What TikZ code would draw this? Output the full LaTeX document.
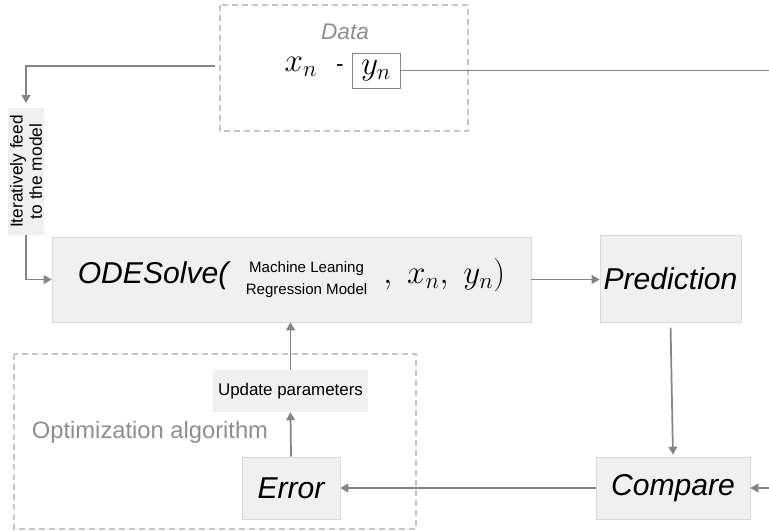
\documentclass[tikz,border=0pt]{standalone}
\usepackage{fontspec}
\setmainfont{Liberation Sans}
\usetikzlibrary{arrows.meta}

\definecolor{boxfill}{HTML}{F0F0F0}
\definecolor{boxline}{HTML}{D9D9D9}
\definecolor{dashline}{HTML}{C6C6C6}
\definecolor{arrowgray}{HTML}{858585}
\definecolor{labelgray}{HTML}{8E8E8E}

\newcommand{\bigit}{\fontsize{22.6}{27}\selectfont\itshape}
\newcommand{\mathsz}{\fontsize{25}{30}\selectfont}

\begin{document}
\begin{tikzpicture}[x=0.75pt,y=-0.75pt]
  \tikzset{box/.style = {draw=boxline,fill=boxfill,inner sep=0pt,font=\bigit}}
  \tikzset{tag/.style = {fill=boxfill,inner sep=0pt}}
  \tikzset{group/.style = {draw=dashline,line width=1pt,dash pattern=on 4.5pt off 3pt}}
  \tikzset{arr/.style = {draw=arrowgray,line width=1.3pt,-{Triangle[length=6pt,width=6.5pt]}}}
  \tikzset{plain/.style = {draw=arrowgray,line width=1.3pt}}

  \useasboundingbox (0,0) rectangle (769,531);

  % data block
  \draw[group] (220,5) rectangle (468,131);
  \node[text=labelgray,font=\fontsize{17}{20}\selectfont\itshape] (datalbl) at (345,32) {Data};
  \node[anchor=base,inner sep=0pt,font=\mathsz] (xn) at (301,72) {$x_n$};
  \node[anchor=base,inner sep=0pt,font=\fontsize{17}{20}\selectfont] (dash) at (340,72) {-};
  \node[draw=arrowgray,line width=0.7pt,minimum width=36pt,minimum height=26.25pt,inner sep=0pt,font=\mathsz] (yn) at (376,70.5) {$y_n$};
  \coordinate (rout) at (769,71);

  % optimization block
  \draw[group] (14,354) rectangle (416,529);
  \node[text=labelgray,font=\fontsize{17.8}{21}\selectfont] (optlbl) at (150,432) {Optimization algorithm};

  % main chain
  \node[box,minimum width=359.25pt,minimum height=63.75pt] (ode) at (291.5,279.5)
    {ODESolve(\hspace{13pt}{\fontsize{11.3}{16.5}\selectfont\upshape\begin{tabular}{@{}c@{}}Machine Leaning\\Regression Model\end{tabular}}\hspace{12pt}{\mathsz$,\ x_n,\ y_n)$}};
  \node[box,minimum width=105.75pt,minimum height=65.25pt] (pred) at (670.5,278.5) {Prediction};
  \node[box,minimum width=115.5pt,minimum height=46.5pt] (cmp) at (673,488) {Compare};
  \node[box,minimum width=73.5pt,minimum height=46.5pt] (err) at (291,488) {Error};
  \node[tag,minimum width=116.25pt,minimum height=31.5pt,font=\fontsize{12.7}{15}\selectfont] (upd) at (290.5,391) {Update parameters};
  \node[tag,rotate=90,minimum width=95.25pt,minimum height=27pt,align=center,font=\fontsize{13}{14.5}\selectfont] (feed) at (26,171.5) {Iteratively feed\\to the model};
  \coordinate (dl) at (215,66);
  \coordinate (rin) at (769,488);

  % connectors
  \draw[arr,shorten >=3.5pt] (dl) -| (feed.east);
  \draw[arr] (feed.west) |- (ode.west);
  \draw[plain] (yn.east) -- (yn.east -| rout);
  \draw[arr] (ode.east) -- (ode.east -| pred.west);
  \draw[arr,shorten <=4pt,shorten >=1.5pt] (pred.south) -- (cmp.north);
  \draw[arr] (rin) -- (cmp.east);
  \draw[arr] (cmp.west) -- (err.east);
  \draw[arr] (err.north) -- (upd.south);
  \draw[arr] (upd.north) -- (upd.north |- ode.south);
\end{tikzpicture}
\end{document}
